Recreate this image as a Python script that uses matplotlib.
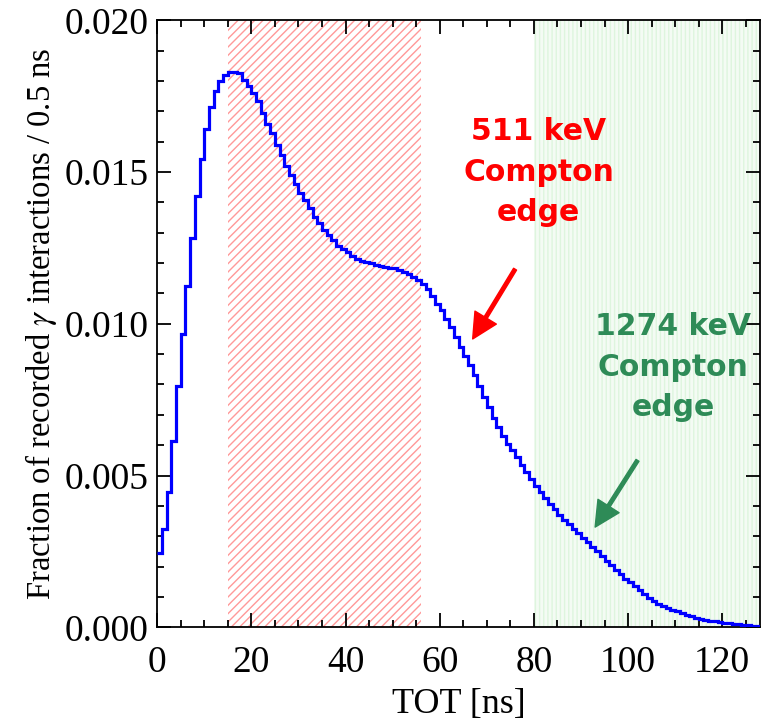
import numpy as np
import matplotlib
matplotlib.use("Agg")
import matplotlib.pyplot as plt

# TOT histogram, 1 ns bins from 0 to 128 ns
edges = np.arange(0, 129, 1)
frac = [
    0.00244, 0.00323, 0.00445, 0.00613, 0.00794, 0.00965, 0.01124, 0.01284,
    0.01420, 0.01542, 0.01641, 0.01713, 0.01766, 0.01799, 0.01819, 0.01829,
    0.01830, 0.01825, 0.01805, 0.01783, 0.01760, 0.01733, 0.01694, 0.01660,
    0.01628, 0.01588, 0.01555, 0.01519, 0.01489, 0.01460, 0.01430, 0.01407,
    0.01380, 0.01351, 0.01331, 0.01308, 0.01292, 0.01275, 0.01255, 0.01245,
    0.01235, 0.01225, 0.01215, 0.01208, 0.01203, 0.01200, 0.01195, 0.01190,
    0.01187, 0.01185, 0.01183, 0.01178, 0.01172, 0.01165, 0.01155, 0.01145,
    0.01130, 0.01115, 0.01090, 0.01065, 0.01045, 0.01015, 0.00990, 0.00955,
    0.00925, 0.00895, 0.00865, 0.00830, 0.00795, 0.00760, 0.00725, 0.00690,
    0.00660, 0.00630, 0.00605, 0.00585, 0.00560, 0.00535, 0.00510, 0.00490,
    0.00465, 0.00445, 0.00425, 0.00405, 0.00390, 0.00370, 0.00355, 0.00340,
    0.00325, 0.00310, 0.00295, 0.00280, 0.00265, 0.00250, 0.00235, 0.00220,
    0.00205, 0.00190, 0.00175, 0.00160, 0.00148, 0.00135, 0.00122, 0.00110,
    0.00098, 0.00087, 0.00078, 0.00070, 0.00064, 0.00058, 0.00052, 0.00046,
    0.00041, 0.00036, 0.00032, 0.00028, 0.00025, 0.00022, 0.00019, 0.00017,
    0.00015, 0.00013, 0.00011, 0.00010, 0.00008, 0.00006, 0.00005, 0.00004,
]

# shaded TOT windows
red_win = (15, 56)
green_win = (80, 128)

serif = ["Liberation Serif", "DejaVu Serif"]
plt.rcParams["hatch.linewidth"] = 1.0
plt.rcParams["mathtext.fontset"] = "stix"

fig = plt.figure(figsize=(7.63, 7.26), dpi=100)
ax = fig.add_axes([0.206, 0.136, 0.79, 0.836])

ax.axvspan(*red_win, facecolor="none", edgecolor=(1.0, 0.6, 0.6),
           hatch="////", linewidth=0, zorder=0)
ax.axvspan(*green_win, facecolor=(0.955, 0.985, 0.955), edgecolor=(0.87, 0.96, 0.87),
           hatch="||||", linewidth=0, zorder=0)

ax.stairs(frac, edges, baseline=None, color="#0000ff", linewidth=2.3, zorder=3)

ax.set_xlim(0, 128)
ax.set_ylim(0, 0.020)
ax.set_xticks([0, 20, 40, 60, 80, 100, 120])
ax.set_xticks(np.arange(0, 129, 5), minor=True)
ax.set_yticks([0.0, 0.005, 0.010, 0.015, 0.020])
ax.set_yticks(np.arange(0, 0.0201, 0.001), minor=True)
ax.set_yticklabels(["0.000", "0.005", "0.010", "0.015", "0.020"])

ax.tick_params(which="both", direction="in", top=True, right=True, width=1.3)
ax.tick_params(which="major", length=10, labelsize=27)
ax.tick_params(axis="x", which="major", pad=13)
ax.tick_params(axis="y", which="major", pad=6)
ax.tick_params(which="minor", length=5)
for lab in ax.get_xticklabels() + ax.get_yticklabels():
    lab.set_family(serif)
for sp in ax.spines.values():
    sp.set_linewidth(1.3)

ax.set_xlabel("TOT [ns]", fontsize=26, family=serif, labelpad=6)
ax.set_ylabel("Fraction of recorded $\\gamma$ interactions / 0.5 ns",
              fontsize=23.5, family=serif, labelpad=4)

ax.text(81, 0.0150, "511 keV\nCompton\nedge", color="red", fontsize=21.5,
        fontweight="bold", ha="center", va="center", linespacing=1.5)
ax.annotate("", xy=(67, 0.0095), xytext=(76, 0.0118),
            arrowprops=dict(color="red", width=2.5, headwidth=18, headlength=18))

ax.text(109.6, 0.00857, "1274 keV\nCompton\nedge", color="#2e8b57", fontsize=21.5,
        fontweight="bold", ha="center", va="center", linespacing=1.5)
ax.annotate("", xy=(93, 0.0033), xytext=(102, 0.0055),
            arrowprops=dict(color="#2e8b57", width=2.5, headwidth=18, headlength=18))

fig.savefig("out.png", dpi=100)
